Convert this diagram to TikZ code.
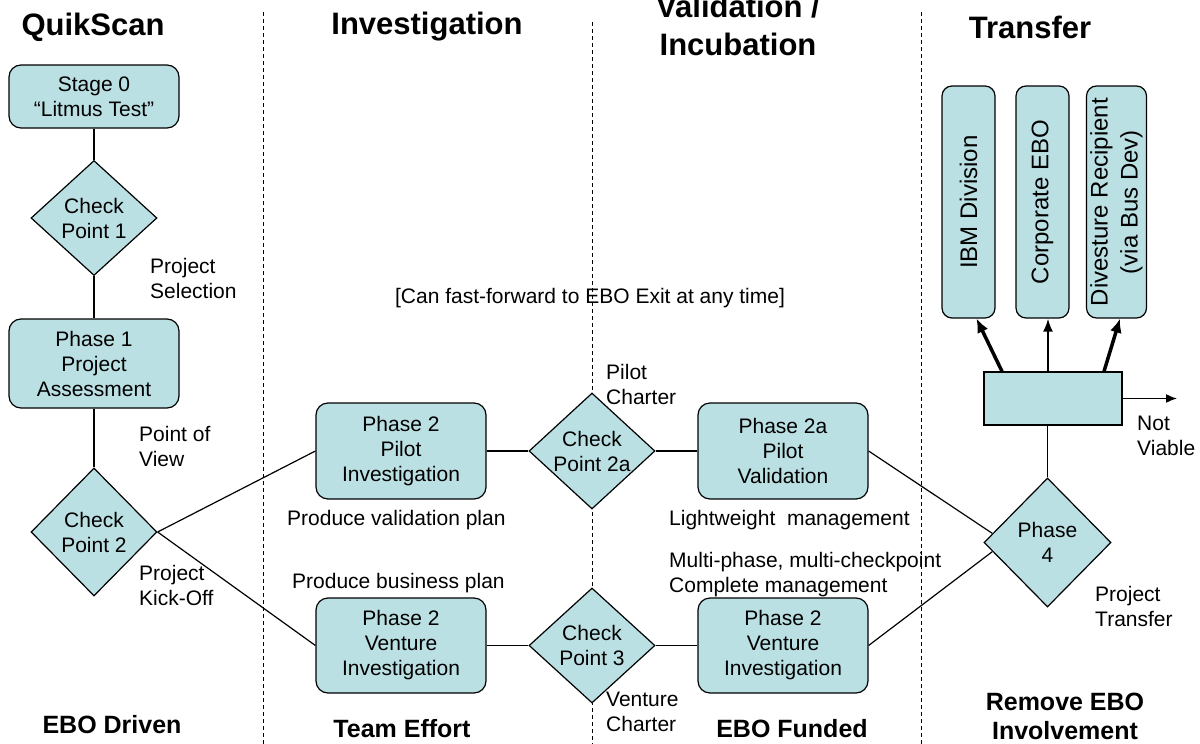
\documentclass[tikz,border=0pt]{standalone}
\usepackage{fontspec}
\setmainfont{Liberation Sans}
\usepackage{graphicx}
\usetikzlibrary{shapes.geometric,arrows.meta,calc}
\definecolor{boxfill}{RGB}{187,224,227}
\begin{document}
\begin{tikzpicture}[x=1pt,y=-1pt,
  every node/.style={font=\fontsize{21}{25}\selectfont, inner sep=0pt, align=center},
  rbox/.style={draw, line width=1.2pt, fill=boxfill, rounded corners=12pt, minimum width=170pt},
  cpt/.style={diamond, draw, line width=1.2pt, fill=boxfill, minimum width=126pt},
  tallbox/.style={draw, line width=1.2pt, fill=boxfill, rounded corners=10pt, minimum width=53pt, minimum height=232pt, font=\fontsize{24}{30}\selectfont},
  lbl/.style={align=left, anchor=west},
  title/.style={font=\fontsize{31}{38}\selectfont\bfseries},
  foot/.style={font=\fontsize{25}{29}\selectfont\bfseries},
  conn/.style={line width=1.2pt},
  sepline/.style={dash pattern=on 4pt off 3pt, line width=1pt},
  bigarrow/.style={line width=3.5pt, -{Latex[length=14pt,width=12pt]}},
  midarrow/.style={line width=2pt, -{Latex[length=13pt,width=10pt]}},
  smallarrow/.style={line width=1.5pt, -{Latex[length=11pt,width=9pt]}}
]
\useasboundingbox (0,0) rectangle (1200,744);

% phase separators
\draw[sepline] (263,12) -- (263,744);
\draw[sepline] (592,22) -- (592,744);
\draw[sepline] (921,12) -- (921,744);

% titles
\node[title] (tq) at (93,27) {QuikScan};
\node[title] (ti) at (427,27) {Investigation};
\node[title] (tv) at (738,25) {Validation /\\Incubation};
\node[title] (tt) at (1030,27) {Transfer};

% footers
\node[foot] (fd) at (112,725) {EBO Driven};
\node[foot] (fe) at (402,729) {Team Effort};
\node[foot] (ff) at (792,729) {EBO Funded};
\node[foot] (fr) at (1065,716) {Remove EBO\\Involvement};

% left column
\node[rbox, minimum height=63pt] (s0) at (94,96.5) {Stage 0\\“Litmus Test”};
\node[cpt, minimum height=115pt] (cp1) at (94,218) {};
\node (cp1t) at (cp1) {Check\\Point 1};
\node[rbox, minimum height=89pt] (p1) at (94,363.5) {Phase 1\\Project\\Assessment};
\node[cpt, minimum height=128pt] (cp2) at (94,532) {};
\node (cp2t) at (cp2) {Check\\Point 2};

% middle
\node[rbox, minimum height=96pt] (p2p) at (401,451) {Phase 2\\Pilot\\Investigation};
\node[cpt, minimum height=116pt] (cp2a) at (592,451) {};
\node (cp2at) at (cp2a) {Check\\Point 2a};
\node[rbox, minimum height=96pt] (p2a) at (783,451) {Phase 2a\\Pilot\\Validation};
\node[rbox, minimum height=95pt] (p2v) at (401,645.5) {Phase 2\\Venture\\Investigation};
\node[cpt, minimum height=115pt] (cp3) at (592,645.5) {};
\node (cp3t) at (cp3) {Check\\Point 3};
\node[rbox, minimum height=95pt] (p2vr) at (783,645.5) {Phase 2\\Venture\\Investigation};

% right
\node[cpt, minimum width=127pt, minimum height=129pt] (p4) at (1047.5,542.5) {};
\node (p4t) at (p4) {Phase\\4};
\node[draw, line width=1.2pt, fill=boxfill, minimum width=138pt, minimum height=53pt] (hub) at (1053,398.5) {};
\node[tallbox] (b1) at (968.5,202) {\rotatebox{90}{IBM Division}};
\node[tallbox] (b2) at (1042.5,202) {\rotatebox{90}{Corporate EBO}};
\node[tallbox] (b3) at (1116.5,202) {\rotatebox{90}{\begin{tabular}{@{}c@{}}Divesture Recipient\\(via Bus Dev)\end{tabular}}};
\coordinate (nv) at (1177,398.5);

% labels
\node[lbl] (lsel) at (150,278) {Project\\Selection};
\node[lbl] (lpov) at (139,446) {Point of\\View};
\node[lbl] (lko) at (139,585) {Project\\Kick-Off};
\node[lbl] (lpc) at (606,384) {Pilot\\Charter};
\node[lbl] (lvc) at (606,712) {Venture\\Charter};
\node[lbl] (lpvp) at (287,520) {Produce validation plan};
\node[lbl] (llm) at (669,520) {Lightweight\ \ management};
\node[lbl] (lmp) at (669,575) {Multi-phase, multi-checkpoint\\Complete management};
\node[lbl] (lpbp) at (292,583) {Produce business plan};
\node[lbl] (lnv) at (1137,436) {Not\\Viable};
\node[lbl] (lpt) at (1095,606) {Project\\Transfer};
\node (lff) at (590,298) {[Can fast-forward to EBO Exit at any time]};

% connectors
\draw[conn] (s0) -- (cp1);
\draw[conn] (cp1) -- (p1);
\draw[conn] (p1) -- (cp2);
\draw[conn] (cp2.east) -- (p2p.west);
\draw[conn] (cp2.east) -- (p2v.west);
\draw[conn] (p2p) -- (cp2a);
\draw[conn] (cp2a) -- (p2a);
\draw[conn] (p2v) -- (cp3);
\draw[conn] (cp3) -- (p2vr);
\draw[conn] (p2a.east) -- ($(p4.west)!0.14!(p4.north)$);
\draw[conn] (p2vr.east) -- ($(p4.west)!0.14!(p4.south)$);
\draw[conn] (p4.north) -- (p4.north |- hub.south);
\draw[bigarrow] ([xshift=-51pt]hub.north) -- ([xshift=8pt]b1.south);
\draw[midarrow] ([xshift=-5pt]hub.north) -- ([xshift=5.5pt]b2.south);
\draw[bigarrow] ([xshift=51pt]hub.north) -- ([xshift=3.5pt]b3.south);
\draw[smallarrow] (hub.east) -- (nv);
\end{tikzpicture}
\end{document}
